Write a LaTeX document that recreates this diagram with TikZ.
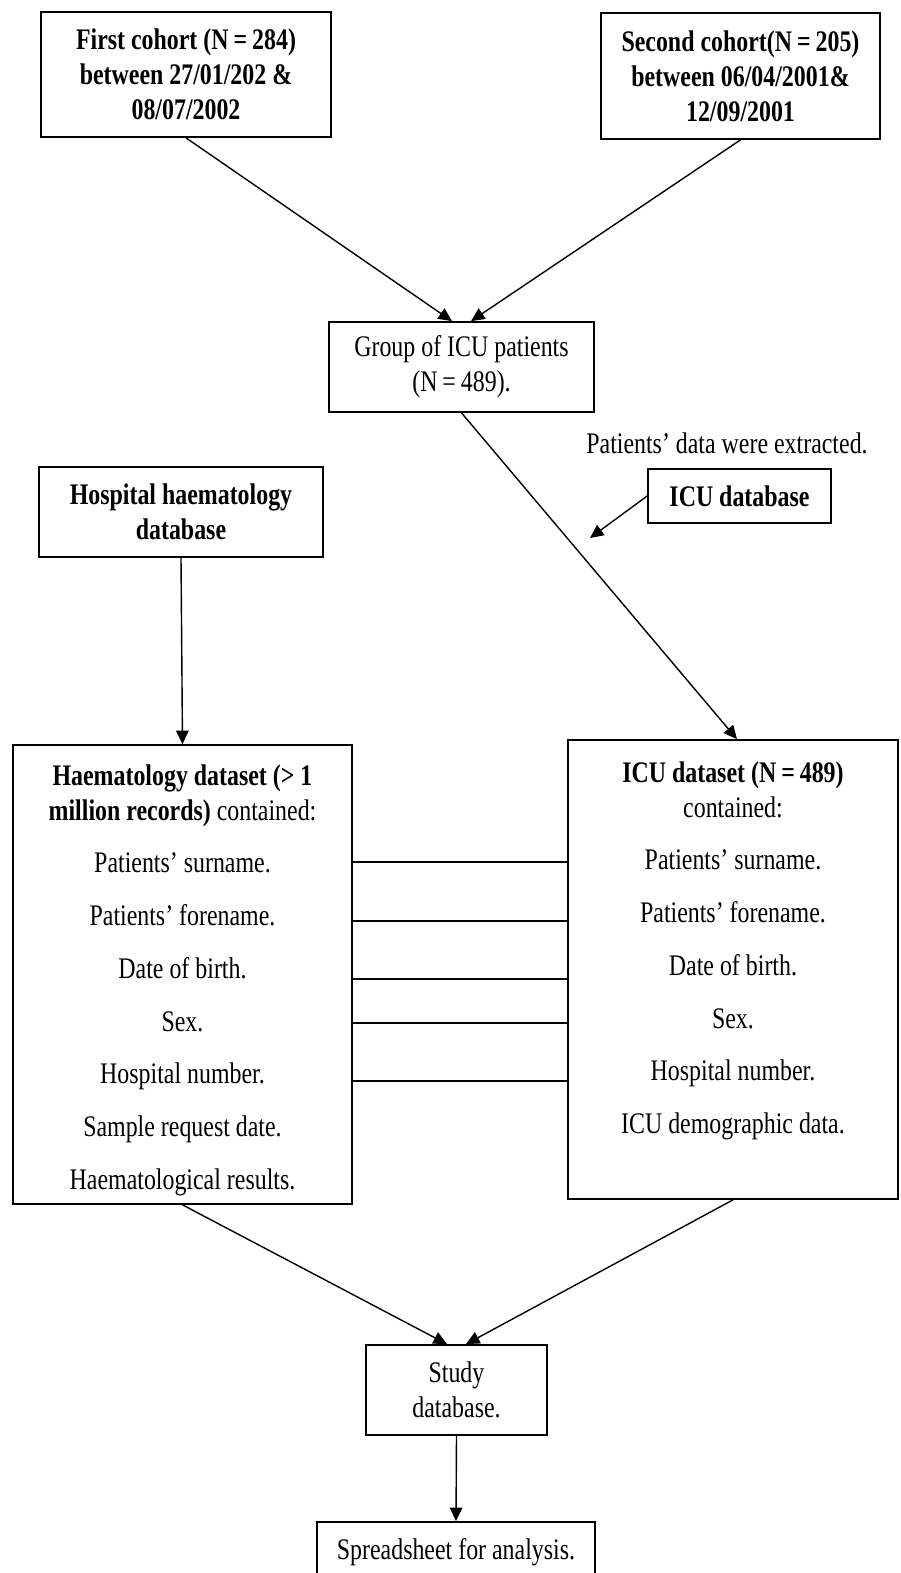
\documentclass[tikz,border=0pt]{standalone}
\usepackage{fontspec}
\setmainfont[FakeStretch=0.8]{Liberation Serif}
\usetikzlibrary{arrows.meta,calc}
\tikzset{
 box/.style={draw,line width=1pt,inner sep=0pt,align=center},
 link/.style={line width=0.8pt,-{Triangle[length=0.27cm,width=0.25cm]}},
 tie/.style={line width=0.8pt}
}
\newcommand{\itemgap}{\\[10pt]}
\begin{document}
\begin{tikzpicture}[x=0.02cm,y=-0.02cm,font=\fontsize{17}{20}\selectfont]
 \useasboundingbox (0,0) rectangle (901,1573);
 \node[box,minimum width=5.8cm,minimum height=2.5cm,font=\fontsize{17}{20}\selectfont\bfseries] (first) at (186,74.5) {First cohort (N\,=\,284)\\between 27/01/202 \&\\08/07/2002};
 \node[box,minimum width=5.58cm,minimum height=2.52cm,font=\fontsize{17}{20}\selectfont\bfseries] (second) at (740.5,76) {Second cohort(N\,=\,205)\\between 06/04/2001\&\\12/09/2001};
 \node[box,minimum width=5.3cm,minimum height=1.8cm] (group) at (461.5,367) {Group of ICU patients\\(N\,=\,489).};
 \node[inner sep=0pt] (extracted) at (727,443) {Patients’ data were extracted.};
 \node[box,minimum width=3.66cm,minimum height=1.08cm,font=\fontsize{17}{20}\selectfont\bfseries] (icudb) at (739.5,496) {ICU database};
 \node[box,minimum width=5.68cm,minimum height=1.8cm,font=\fontsize{17}{20}\selectfont\bfseries] (hosp) at (181,512) {Hospital haematology\\database};
 \node[box,minimum width=6.78cm,minimum height=9.18cm] (haem) at (182.5,974.5) {};
 \node[box,minimum width=6.6cm,minimum height=9.18cm] (icu) at (733,969.5) {};
 \node[inner sep=0pt,align=center,anchor=north] (haemlist) at (182.5,764) {\textbf{Haematology dataset (> 1}\\\textbf{million records)} contained:\itemgap Patients’ surname.\itemgap Patients’ forename.\itemgap Date of birth.\itemgap Sex.\itemgap Hospital number.\itemgap Sample request date.\itemgap Haematological results.};
 \node[inner sep=0pt,align=center,anchor=north] (iculist) at (733,761) {\textbf{ICU dataset (N\,=\,489)}\\contained:\itemgap Patients’ surname.\itemgap Patients’ forename.\itemgap Date of birth.\itemgap Sex.\itemgap Hospital number.\itemgap ICU demographic data.};
 \node[box,minimum width=3.62cm,minimum height=1.8cm] (study) at (456.5,1390) {Study\\database.};
 \node[box,minimum width=5.56cm,minimum height=1.2cm] (sheet) at (456,1552) {Spreadsheet for analysis.};
 \coordinate (icudbtip) at (590,538);
 \draw[link] (first.south) -- ($(group.north)+(-9.5,0)$);
 \draw[link] (second.south) -- ($(group.north)+(9.5,0)$);
 \draw[link] (group.south) -- ($(icu.north)+(4,0)$);
 \draw[link] (icudb.west) -- (icudbtip);
 \draw[link] (hosp.south) -- (haem.north);
 \foreach \y in {862,921,979,1023,1081}
  \draw[tie] (haem.east |- 0,\y) -- (icu.west |- 0,\y);
 \draw[link] (haem.south) -- ($(study.north)+(-9.5,0)$);
 \draw[link] (icu.south) -- ($(study.north)+(9.5,0)$);
 \draw[link] (study.south) -- (sheet.north);
\end{tikzpicture}
\end{document}
